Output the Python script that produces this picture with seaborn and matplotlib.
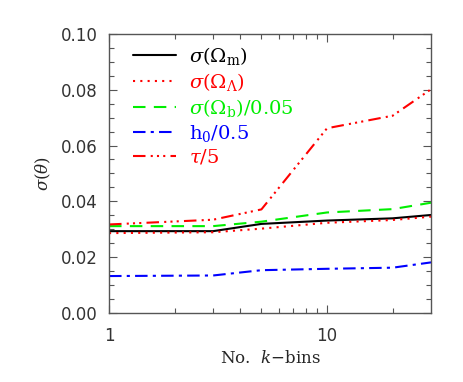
import numpy as np
import pandas as pd
import matplotlib
matplotlib.use("Agg")
import matplotlib.pyplot as plt
import seaborn as sns
from matplotlib.ticker import MultipleLocator, FixedLocator, NullFormatter

kbins = [1, 3, 5, 10, 20, 30]
sig_om = [0.0293, 0.0293, 0.0319, 0.0331, 0.0339, 0.0351]
sig_ol = [0.0286, 0.0289, 0.0302, 0.0323, 0.0333, 0.0345]
sig_ob = [0.0311, 0.0311, 0.0327, 0.0360, 0.0372, 0.0395]
sig_h0 = [0.0132, 0.0134, 0.0153, 0.0158, 0.0162, 0.0181]
sig_tau = [0.0317, 0.0334, 0.0371, 0.0662, 0.0707, 0.0802]

labels = [r"$\sigma(\Omega_{\rm m})$", r"$\sigma(\Omega_\Lambda)$",
          r"$\sigma(\Omega_{\rm b})/0.05$", r"${\rm h_0}/0.5$", r"$\tau/5$"]
series = [sig_om, sig_ol, sig_ob, sig_h0, sig_tau]
colors = ["black", "#ff0000", "#00ee00", "#0000ff", "#ff0000"]
dashes = [(None, None), (1, 2.5), (6, 4), (6, 2.5, 1.5, 2.5), (6, 2.5, 1, 2, 1, 2, 1, 2.5)]

sns.set_theme(style="white")
plt.rcParams['font.family'] = ['DejaVu Sans']
plt.rcParams['mathtext.fontset'] = 'dejavuserif'

fig = plt.figure(figsize=(4.64, 3.82), dpi=100)
ax = fig.add_axes([0.235, 0.181, 0.694, 0.730])

for vals, lab, col, d in zip(series, labels, colors, dashes):
    df = pd.DataFrame({"k": kbins, "s": vals})
    sns.lineplot(data=df, x="k", y="s", ax=ax, color=col, lw=1.5, label=lab)
    line = ax.lines[-1]
    if d[0] is not None:
        line.set_dashes(d)

ax.set_xscale("log")
ax.set_xlim(1, 30)
ax.set_ylim(0, 0.10)
ax.yaxis.set_major_locator(MultipleLocator(0.02))
ax.yaxis.set_minor_locator(MultipleLocator(0.005))
ax.yaxis.set_major_formatter(matplotlib.ticker.FormatStrFormatter("%.2f"))
ax.xaxis.set_major_locator(FixedLocator([1, 10]))
ax.xaxis.set_major_formatter(matplotlib.ticker.FixedFormatter(["1", "10"]))
ax.xaxis.set_minor_locator(FixedLocator([2, 3, 4, 5, 6, 7, 8, 9, 20]))
ax.xaxis.set_minor_formatter(NullFormatter())
ax.tick_params(which="both", direction="in", top=True, right=True, bottom=True, left=True,
               color="#555555", labelsize=12, labelcolor="#333333")
ax.tick_params(which="major", length=6, width=0.8)
ax.tick_params(axis="x", which="major", pad=10)
ax.tick_params(axis="y", which="major", pad=8)
ax.tick_params(which="minor", length=3.5, width=0.8)
for sp in ax.spines.values():
    sp.set_color("#555555")
    sp.set_linewidth(1.0)

ax.set_xlabel(r"No.  $k$$-$bins", fontsize=12, family="DejaVu Serif", labelpad=4)
ax.set_ylabel(r"$\sigma(\theta)$", fontsize=12, labelpad=6)

leg = ax.legend(loc="upper left", frameon=False, fontsize=14, handlelength=2.2,
                handletextpad=0.7, labelspacing=0.2, borderaxespad=0.0, borderpad=0.0,
                bbox_to_anchor=(0.074, 0.96))
for txt, col in zip(leg.get_texts(), colors):
    txt.set_color(col)

fig.savefig("out.png", dpi=100)
